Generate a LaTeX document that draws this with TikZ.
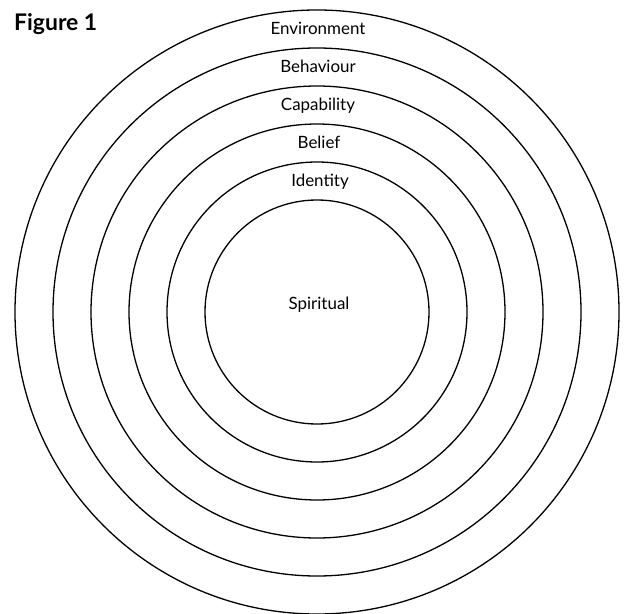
\documentclass[tikz,border=0pt]{standalone}
\usepackage{fontspec}
\setmainfont{Lato}
\begin{document}
\begin{tikzpicture}[x=1bp,y=-1bp,
  ring/.style={draw=black,line width=1.3bp},
  lbl/.style={anchor=base,inner sep=0pt,font=\fontsize{17}{20}\selectfont},
  title/.style={anchor=base west,inner sep=0pt,font=\fontsize{23}{26}\selectfont\bfseries}]
\useasboundingbox (0,0) rectangle (628,614);
\coordinate (c) at (317,312);
\draw[ring] (c) circle[radius=302];
\draw[ring] (c) circle[radius=264];
\draw[ring] (c) circle[radius=226];
\draw[ring] (c) circle[radius=188];
\draw[ring] (c) circle[radius=150];
\draw[ring] (c) circle[radius=112];
\node[title] (fig) at (14,31) {Figure 1};
\node[lbl] (env) at (318,35) {Environment};
\node[lbl] (beh) at (318,73) {Behaviour};
\node[lbl] (cap) at (318,111) {Capability};
\node[lbl] (bel) at (319,149) {Belief};
\node[lbl] (ide) at (320,187) {Identity};
\node[lbl] (spi) at (319,309) {Spiritual};
\end{tikzpicture}
\end{document}
